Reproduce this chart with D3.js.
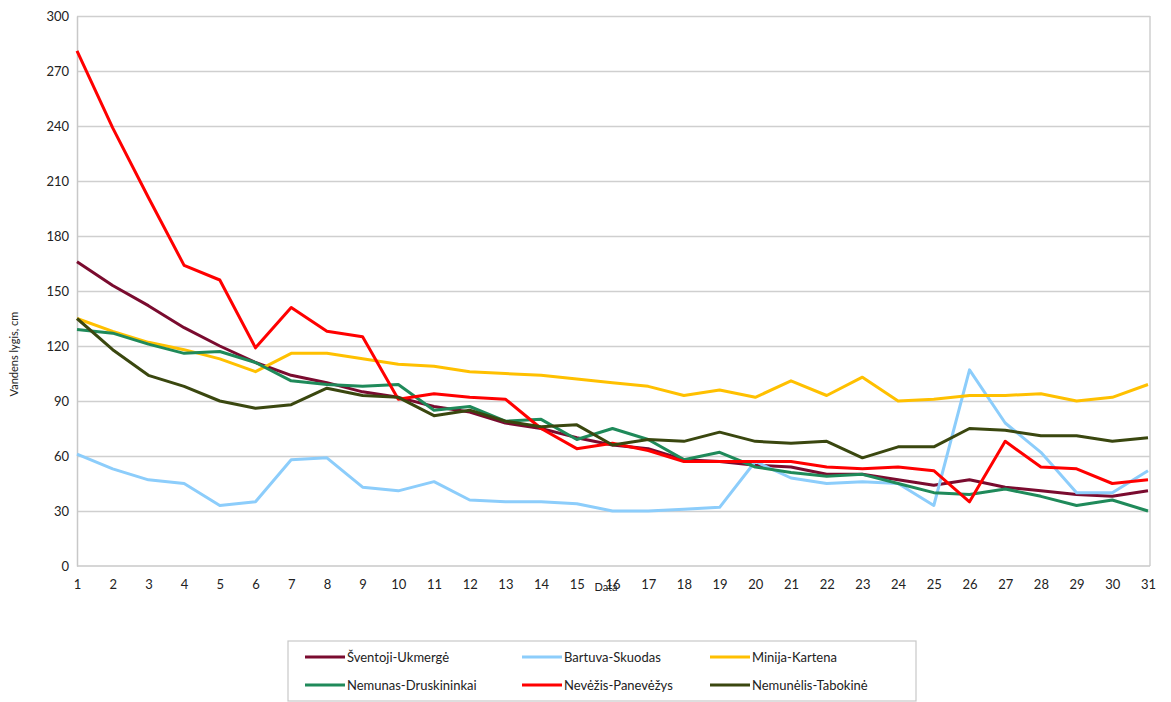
<!DOCTYPE html>
<html>
<head>
<meta charset="utf-8">
<script src="https://cdn.jsdelivr.net/npm/d3@7"></script>
<style>
    body { margin: 0; background: #fff; }
    text { font-family: Lato, "Open Sans", sans-serif; fill: #222; }
    .grid line { stroke: #cfcfcf; stroke-width: 1.5; }
    .grid path { display: none; }
    .axis path, .axis line { stroke: #c8c8c8; stroke-width: 1.5; }
    .line { fill: none; stroke-width: 3; stroke-linejoin: round; }
</style>
</head>
<body>
<div id="plot"></div>
<script>
// days of the month
var days = d3.range(1, 32);

var yTicks = [0, 30, 60, 90, 120, 150, 180, 210, 240, 270, 300];

var seriesNames = ["Šventoji-Ukmergė", "Bartuva-Skuodas", "Minija-Kartena",
                   "Nemunas-Druskininkai", "Nevėžis-Panevėžys", "Nemunėlis-Tabokinė"];

var sventoji = [166, 153, 142, 130, 120, 111, 104, 100, 95, 92, 87, 84, 78, 75, 70, 66,
                64, 58, 57, 55, 54, 50, 50, 47, 44, 47, 43, 41, 39, 38, 41];
var bartuva = [61, 53, 47, 45, 33, 35, 58, 59, 43, 41, 46, 36, 35, 35, 34, 30,
               30, 31, 32, 57, 48, 45, 46, 45, 33, 107, 78, 62, 40, 40, 52];
var minija = [135, 128, 122, 118, 113, 106, 116, 116, 113, 110, 109, 106, 105, 104, 102, 100,
              98, 93, 96, 92, 101, 93, 103, 90, 91, 93, 93, 94, 90, 92, 99];
var nemunas = [129, 127, 121, 116, 117, 111, 101, 99, 98, 99, 85, 87, 79, 80, 69, 75,
               69, 58, 62, 54, 51, 49, 50, 45, 40, 39, 42, 38, 33, 36, 30];
var nevezis = [281, 239, 201, 164, 156, 119, 141, 128, 125, 91, 94, 92, 91, 75, 64, 67,
               63, 57, 57, 57, 57, 54, 53, 54, 52, 35, 68, 54, 53, 45, 47];
var nemunelis = [135, 118, 104, 98, 90, 86, 88, 97, 93, 92, 82, 85, 79, 76, 77, 66,
                 69, 68, 73, 68, 67, 68, 59, 65, 65, 75, 74, 71, 71, 68, 70];

var seriesValues = [sventoji, bartuva, minija, nemunas, nevezis, nemunelis];
var colors = ["#7a0b2f", "#8ccdfb", "#ffc000", "#1f8a5a", "#ff0000", "#3a470f"];

function zip_data(xData, yData) {
    var data = [];
    for (var i = 0; i < xData.length; i++) {
        data.push([xData[i], yData[i]]);
    }
    return data;
}

function plot_chart() {
    var width = 1171,
        height = 702,
        margin = {left: 77, top: 16, right: 21, bottom: 136};

    var svg = d3.select("#plot")
        .append("svg")
        .attr("width", width)
        .attr("height", height);

    var xScale = d3.scaleLinear()
        .domain([1, 31])
        .range([margin.left, width - margin.right - 2]);

    var yScale = d3.scaleLinear()
        .domain([0, 300])
        .range([height - margin.bottom, margin.top]);

    // horizontal grid
    svg.append("g")
        .attr("class", "grid")
        .attr("transform", `translate(${margin.left},0)`)
        .call(d3.axisLeft(yScale).tickValues(yTicks.slice(1))
            .tickSize(-(width - margin.right - margin.left)).tickFormat(""));

    // right border of plot
    svg.append("line")
        .attr("x1", width - margin.right).attr("x2", width - margin.right)
        .attr("y1", margin.top).attr("y2", height - margin.bottom)
        .attr("stroke", "#cfcfcf").attr("stroke-width", 1.5);

    // y axis
    var yAxis = svg.append("g")
        .attr("class", "axis")
        .attr("transform", `translate(${margin.left},0)`)
        .call(d3.axisLeft(yScale).tickValues(yTicks).tickSize(0).tickPadding(8));
    yAxis.selectAll("text").style("font-size", "13px");

    // x axis
    var xAxis = svg.append("g")
        .attr("class", "axis")
        .attr("transform", `translate(0,${height - margin.bottom})`)
        .call(d3.axisBottom(xScale).tickValues(days).tickSize(0).tickPadding(14)
            .tickFormat(d3.format("d")));
    xAxis.select(".domain")
        .attr("d", `M${margin.left},0H${width - margin.right}`);
    xAxis.selectAll("text").style("font-size", "13px");

    // axis titles
    svg.append("text")
        .attr("transform", `translate(18,${(margin.top + height - margin.bottom) / 2 + 63}) rotate(-90)`)
        .attr("text-anchor", "middle")
        .style("font-size", "11px")
        .text("Vandens lygis, cm");

    svg.append("text")
        .attr("x", 606)
        .attr("y", 591)
        .attr("text-anchor", "middle")
        .style("font-size", "11px")
        .text("Data");

    var line_generator = d3.line()
        .x(function (d) { return xScale(d[0]); })
        .y(function (d) { return yScale(d[1]); });

    seriesValues.forEach(function (vals, i) {
        svg.append("path")
            .attr("class", "line")
            .attr("stroke", colors[i])
            .attr("d", line_generator(zip_data(days, vals)));
    });

    // legend
    var legend = svg.append("g");
    legend.append("rect")
        .attr("x", 288).attr("y", 641)
        .attr("width", 628).attr("height", 60)
        .attr("fill", "#fff").attr("stroke", "#c8c8c8").attr("stroke-width", 1.2);

    var colX = [305, 522, 710];
    var rowY = [657, 685];
    seriesNames.forEach(function (name, i) {
        var cx = colX[i % 3], cy = rowY[Math.floor(i / 3)];
        legend.append("line")
            .attr("x1", cx).attr("x2", cx + 40)
            .attr("y1", cy).attr("y2", cy)
            .attr("stroke", colors[i]).attr("stroke-width", 3);
        legend.append("text")
            .attr("x", cx + 42).attr("y", cy + 4.5)
            .style("font-size", "13px")
            .text(name);
    });
}

plot_chart();
</script>
</body>
</html>
